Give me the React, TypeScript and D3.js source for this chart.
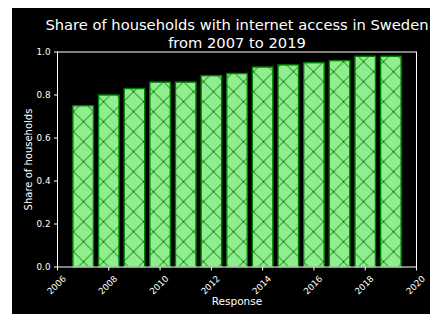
import { scaleLinear, range } from 'd3'

const years = [2007, 2008, 2009, 2010, 2011, 2012, 2013, 2014, 2015, 2016, 2017, 2018, 2019]
const shares = [0.75, 0.8, 0.83, 0.86, 0.86, 0.89, 0.9, 0.93, 0.94, 0.95, 0.96, 0.98, 0.98]
const xTicks = [2006, 2008, 2010, 2012, 2014, 2016, 2018, 2020]
const yTicks = [0, 0.2, 0.4, 0.6, 0.8, 1.0]
const titleLines = ['Share of households with internet access in Sweden', 'from 2007 to 2019']

const W = 430
const H = 314
const font = '"DejaVu Sans", sans-serif'

export default function App() {
  const plot = { left: 57.5, right: 416.5, top: 52, bottom: 267 }
  const x = scaleLinear().domain([2006, 2020]).range([plot.left, plot.right])
  const y = scaleLinear().domain([0, 1]).range([plot.bottom, plot.top])
  const barW = x(2006.8) - x(2006)
  const s = 20 // hatch spacing

  return (
    <svg width={W} height={H} style={{ position: 'absolute', left: 0, top: 0 }} fontFamily={font}>
      <defs>
        <pattern id="hatch" patternUnits="userSpaceOnUse" width={s} height={s} x={3.5} y={1.7}>
          <rect width={s} height={s} fill="#90ee90" />
          <path
            d={`M${-s / 2},${-s / 2}L${s * 1.5},${s * 1.5}M${-s / 2},${s * 1.5}L${s * 1.5},${-s / 2}`}
            stroke="#008000"
            strokeWidth={1}
          />
        </pattern>
      </defs>
      <rect x={12} y={8} width={W - 12} height={H - 8} fill="#000" />

      {/* title */}
      {titleLines.map((t, i) => (
        <text key={i} x={(plot.left + plot.right) / 2} y={30 + i * 17.5} fill="#fff" fontSize={14.7} textAnchor="middle">
          {t}
        </text>
      ))}

      {/* bars */}
      {years.map((yr, i) => (
        <rect
          key={yr}
          x={x(yr) - barW / 2}
          y={y(shares[i])}
          width={barW}
          height={y(0) - y(shares[i])}
          fill="url(#hatch)"
          stroke="#008000"
          strokeWidth={1.4}
        />
      ))}

      {/* frame */}
      <rect
        x={plot.left}
        y={plot.top}
        width={plot.right - plot.left}
        height={plot.bottom - plot.top}
        fill="none"
        stroke="#fff"
        strokeWidth={1}
      />

      {/* y axis */}
      {yTicks.map((t) => (
        <g key={t}>
          <line x1={plot.left - 3.5} x2={plot.left} y1={y(t)} y2={y(t)} stroke="#fff" strokeWidth={1} />
          <text x={plot.left - 7} y={y(t)} dy="0.35em" fill="#fff" fontSize={8.8} textAnchor="end">
            {t.toFixed(1)}
          </text>
        </g>
      ))}
      <text
        transform={`translate(28,${(plot.top + plot.bottom) / 2}) rotate(-90)`}
        fill="#fff"
        fontSize={10}
        textAnchor="middle"
        dy="0.35em"
      >
        Share of households
      </text>

      {/* x axis */}
      {xTicks.map((t) => (
        <g key={t}>
          <line x1={x(t)} x2={x(t)} y1={plot.bottom} y2={plot.bottom + 3.5} stroke="#fff" strokeWidth={1} />
          <text
            transform={`translate(${x(t) - 1},285) rotate(-45)`}
            fill="#fff"
            fontSize={8.8}
            textAnchor="middle"
            dy="0.35em"
          >
            {t}
          </text>
        </g>
      ))}
      <text x={(plot.left + plot.right) / 2} y={305} fill="#fff" fontSize={10.5} textAnchor="middle">
        Response
      </text>
    </svg>
  )
}
